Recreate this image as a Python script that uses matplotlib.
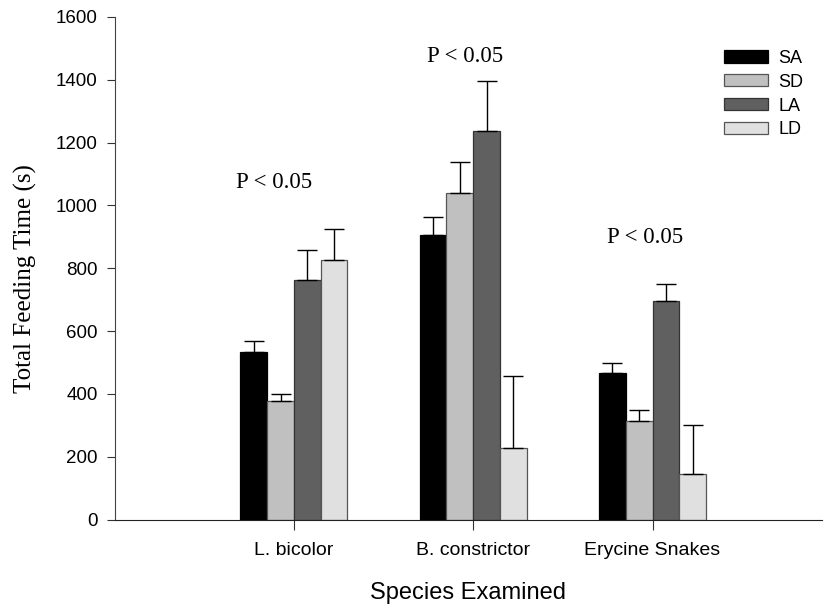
import numpy as np
import matplotlib
matplotlib.use("Agg")
import matplotlib.pyplot as plt
from matplotlib.patches import Patch

# Mean total feeding time (s) and upper error per group
species = ["L. bicolor", "B. constrictor", "Erycine Snakes"]
treatments = ["SA", "SD", "LA", "LD"]
means = {
    "SA": [533, 907, 466],
    "SD": [379, 1040, 313],
    "LA": [763, 1238, 696],
    "LD": [827, 228, 144],
}
errors = {
    "SA": [34, 55, 34],
    "SD": [21, 97, 36],
    "LA": [96, 157, 54],
    "LD": [98, 229, 156],
}
colors = {"SA": "#000000", "SD": "#c0c0c0", "LA": "#606060", "LD": "#e0e0e0"}
edges = {"SA": "#000000", "SD": "#555555", "LA": "#333333", "LD": "#555555"}
p_labels = ["P < 0.05", "P < 0.05", "P < 0.05"]

fig = plt.figure(figsize=(8.24, 6.07), dpi=100)
ax = fig.add_axes([0.139, 0.144, 0.8586, 0.828])

x = np.arange(1, len(species) + 1)
width = 0.149
for i, t in enumerate(treatments):
    pos = x + (i - 1.5) * width
    ax.bar(pos, means[t], width, color=colors[t], edgecolor=edges[t],
           linewidth=0.9, zorder=2)
    ax.errorbar(pos, means[t], yerr=[np.zeros(3), errors[t]], fmt="none",
                ecolor="black", elinewidth=1.0, capsize=7.5, capthick=1.0,
                zorder=3)

# significance notes above each group
p_spots = [(x[0] - 0.11, 1072), (x[1] - 0.045, 1474), (x[2] - 0.04, 897)]
for (px, py), lbl in zip(p_spots, p_labels):
    ax.text(px, py, lbl, ha="center", va="center",
            family="Liberation Serif", fontsize=16.5)

ax.set_xlim(0, 3.945)
ax.set_ylim(0, 1600)
ax.set_yticks(np.arange(0, 1601, 200))
ax.set_xticks(x)
ax.set_xticklabels(species, family="Liberation Sans", fontsize=14)
ax.tick_params(axis="x", length=7, width=0.8, pad=9, color="#333333")
ax.tick_params(axis="y", length=6, width=0.8, pad=6, labelsize=13.5,
               color="#333333")
for lab in ax.get_yticklabels():
    lab.set_family("Liberation Sans")

ax.spines["top"].set_visible(False)
ax.spines["right"].set_visible(False)
ax.spines["left"].set_color("#444444")
ax.spines["bottom"].set_color("#222222")

ax.set_ylabel("Total Feeding Time (s)", family="Liberation Serif",
              fontsize=18)
ax.yaxis.set_label_coords(-0.11, 0.48)
ax.set_xlabel("Species Examined", family="Liberation Sans", fontsize=17,
              labelpad=17)

handles = [Patch(facecolor=colors[t], edgecolor=edges[t], linewidth=0.9)
           for t in treatments]
leg = ax.legend(handles, treatments, loc="upper right",
                bbox_to_anchor=(0.997, 0.967), frameon=False,
                prop={"family": "Liberation Sans", "size": 13},
                handlelength=2.45, handleheight=0.65, labelspacing=0.38,
                handletextpad=0.6)

fig.savefig("out.png", dpi=100)
